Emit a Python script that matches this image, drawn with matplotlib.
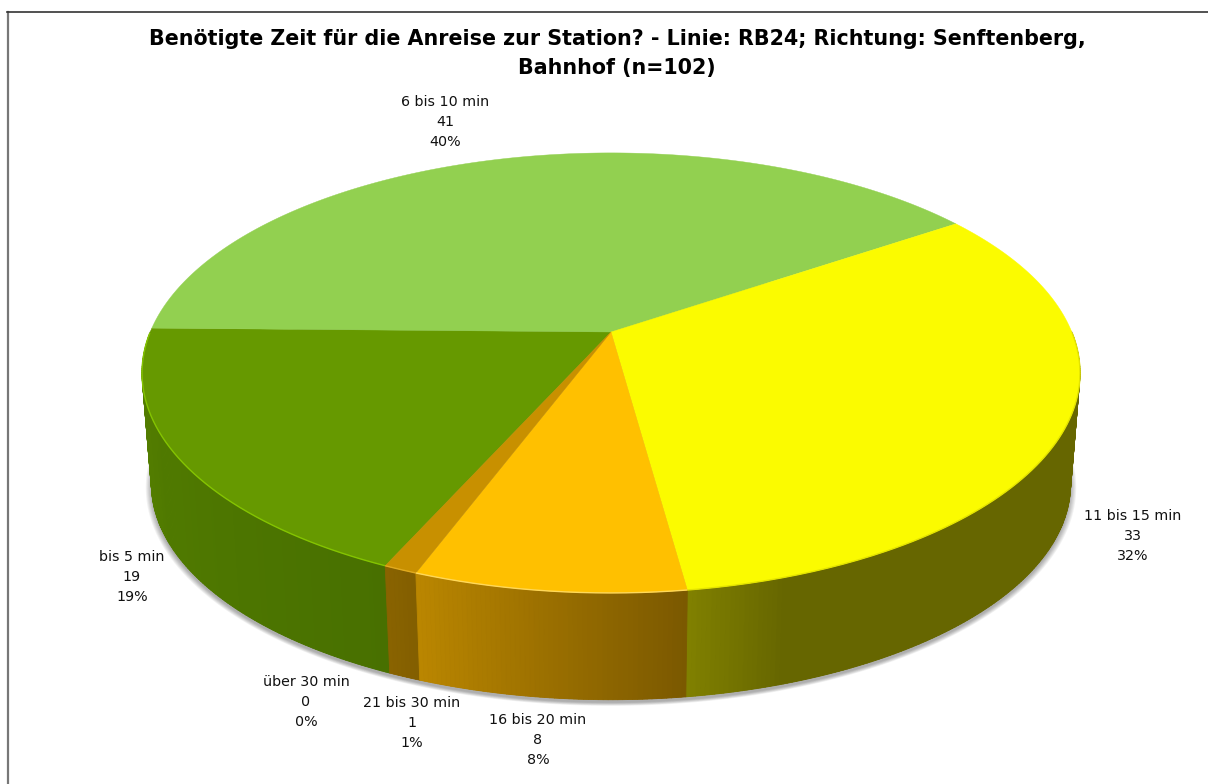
import matplotlib
matplotlib.use("Agg")
import matplotlib.pyplot as plt
from matplotlib.patches import Polygon
import numpy as np

categories = ["bis 5 min", "6 bis 10 min", "11 bis 15 min", "16 bis 20 min", "21 bis 30 min", "über 30 min"]
values = [19, 41, 33, 8, 1, 0]
title = "Benötigte Zeit für die Anreise zur Station? - Linie: RB24; Richtung: Senftenberg,\nBahnhof (n=102)"

top_colors = ["#669900", "#92d050", "#fbfb00", "#ffc000", "#c89000", "#b08000"]
wall_left = [(86, 129, 0), (110, 156, 60), (128, 128, 0), (186, 134, 0), (137, 99, 0), (120, 90, 0)]
wall_right = [(72, 112, 0), (110, 156, 60), (102, 102, 0), (122, 88, 0), (130, 94, 0), (120, 90, 0)]
rim_colors = ["#84c400", "#a8e070", "#e4e400", "#ffd85a", "#e0aa20", "#e0aa20"]

label_x = [132, 445, 1133, 538, 412, 306]
label_y = [577, 122, 536, 740, 723, 702]

START_ANGLE = 204.0  # clockwise from the top
CX, CY = 611, 332
A, B, K = 460.8, 212.4, 0.186  # perspective of the disc
WALL_S, WALL_DY = 0.98, 112


def project(theta, scale=1.0, dy=0.0):
    t = np.radians(theta)
    u, v = np.sin(t), -np.cos(t)
    w = 1 - K * v
    return CX + scale * A * u / w, CY + dy + scale * B * v / w


total = sum(values)
edges = START_ANGLE + np.cumsum([0] + values) / total * 360

fig = plt.figure(figsize=(12.08, 7.84), dpi=100)
ax = fig.add_axes([0, 0, 1, 1])
ax.set_xlim(0, 1208)
ax.set_ylim(784, 0)
ax.axis("off")

# frame of the chart area
ax.plot([7.5, 7.5], [12, 784], color="#777777", lw=1.6)
ax.plot([7, 1208], [12, 12], color="#333333", lw=1.2)

# soft shadow under the disc
ring = np.linspace(0, 360, 361)
for i in range(7):
    sx, sy = project(ring, WALL_S + 0.012 - i * 0.002, WALL_DY + 3)
    ax.add_patch(Polygon(np.c_[sx, sy], fc="#000000", ec="none", alpha=0.05, zorder=1))

# side walls: a solid piece per slice, then thin strips for the gradient
strips = []
for i in range(len(values)):
    if values[i] == 0:
        continue
    n = max(int((edges[i + 1] - edges[i]) * 2), 2)
    steps = np.linspace(edges[i], edges[i + 1], n + 1)
    left, right = np.array(wall_left[i]) / 255, np.array(wall_right[i]) / 255
    seen = steps[np.cos(np.radians(steps)) <= 0]
    if len(seen) > 1:
        tx, ty = project(seen)
        bx, by = project(seen[::-1], WALL_S, WALL_DY)
        ax.add_patch(Polygon(np.c_[np.r_[tx, bx], np.r_[ty, by]], fc=(left + right) / 2, ec="none", zorder=2))
    for j in range(n):
        a0, a1 = steps[j], steps[j + 1]
        if np.cos(np.radians((a0 + a1) / 2)) > 0:
            continue  # back of the disc, never seen
        if i == 2:
            # the yellow wall is bright only next to the orange slice
            f = min((edges[i + 1] - a1) / 10, 1)
        else:
            # the other walls are seen with the end of the slice on the left
            f = (edges[i + 1] - a1) / (edges[i + 1] - edges[i])
        col = left + (right - left) * f
        strips.append((-np.cos(np.radians(a0)), a0, a1, col))

# back to front
strips.sort(key=lambda s: s[0])
for v, a0, a1, col in strips:
    x0, y0 = project(a0)
    x1, y1 = project(a1)
    x2, y2 = project(a1, WALL_S, WALL_DY)
    x3, y3 = project(a0, WALL_S, WALL_DY)
    ax.add_patch(Polygon([(x0, y0), (x1, y1), (x2, y2), (x3, y3)], fc=col, ec=col, lw=0.6,
                         joinstyle="round", zorder=2))

# top faces of the slices
for i in range(len(values)):
    if values[i] == 0:
        continue
    arc = np.linspace(edges[i], edges[i + 1], 200)
    xs, ys = project(arc)
    ax.add_patch(Polygon(np.r_[[(CX, CY)], np.c_[xs, ys]], fc=top_colors[i], ec=top_colors[i], lw=0.3,
                         joinstyle="round", zorder=3))
    # bright rim on the front edge
    front = arc[np.cos(np.radians(arc)) < 0]
    if len(front):
        fx, fy = project(front)
        ax.plot(fx, fy, color=rim_colors[i], lw=1.0, zorder=4, solid_capstyle="butt")

ax.text(617, 53.5, title, ha="center", va="center", fontsize=14.87, fontweight="bold",
        family="DejaVu Sans", color="black", linespacing=1.58, zorder=5)

for i in range(len(categories)):
    pct = round(values[i] / total * 100)
    ax.text(label_x[i], label_y[i], f"{categories[i]}\n{values[i]}\n{pct}%", ha="center", va="center",
            fontsize=10.3, family="DejaVu Sans", color="#111111", linespacing=1.53, zorder=5)

fig.savefig("out.png", dpi=100, facecolor="white")
